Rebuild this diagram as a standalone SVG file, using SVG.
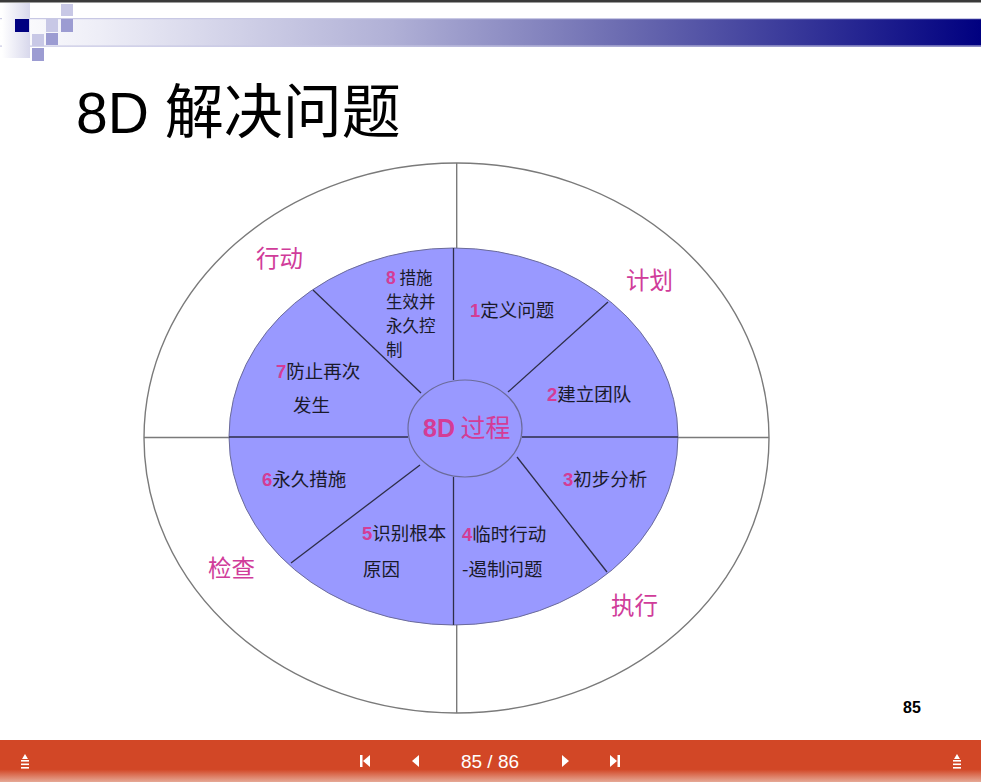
<svg xmlns="http://www.w3.org/2000/svg" width="981" height="782" viewBox="0 0 981 782">
  <defs>
    <linearGradient id="hdr" x1="0" y1="0" x2="1" y2="0">
      <stop offset="0" stop-color="#ffffff"/>
      <stop offset="0.1" stop-color="#eeeef7"/>
      <stop offset="0.4" stop-color="#b0b0d6"/>
      <stop offset="0.64" stop-color="#6a6ab0"/>
      <stop offset="1" stop-color="#000080"/>
    </linearGradient>
    <linearGradient id="side" x1="0" y1="0" x2="1" y2="0">
      <stop offset="0" stop-color="#ffffff"/>
      <stop offset="1" stop-color="#d8d8ec"/>
    </linearGradient>
    <linearGradient id="bar" x1="0" y1="0" x2="0" y2="1">
      <stop offset="0" stop-color="#d24726"/>
      <stop offset="0.7" stop-color="#d24726"/>
      <stop offset="1" stop-color="#e6a996"/>
    </linearGradient>
    <g id="menu">
      <path d="M0 -8 L3 -3 L-3 -3 Z" fill="#fff"/>
      <rect x="-4" y="-2" width="8" height="1.6" fill="#fff"/>
      <rect x="-4" y="1.5" width="8" height="1.6" fill="#fff"/>
      <rect x="-4" y="5" width="8" height="1.6" fill="#fff"/>
    </g>
  </defs>
  <style>
    .cn { font-family: "Noto Sans CJK SC", "Liberation Sans", sans-serif; }
    .item { font-family: "Noto Sans CJK SC", "Liberation Sans", sans-serif; font-size: 18.5px; fill: #1a1a2a; }
    .tight { font-size: 16.5px; }
    .num { font-family: "Liberation Sans", Arial, sans-serif; font-weight: bold; fill: #d43c96; }
    .phase { font-family: "Noto Sans CJK SC", sans-serif; font-size: 23.5px; fill: #d03c9a; }
    .div { stroke: #2e2e48; stroke-width: 1.3; fill: none; }
    .outer { stroke: #7a7a7a; stroke-width: 1.4; fill: none; }
  </style>

  <rect width="981" height="782" fill="#ffffff"/>

  <!-- slide header -->
  <g id="header">
    <rect x="0" y="0" width="981" height="2.5" fill="#3a3a3a"/>
    <rect x="0" y="18" width="981" height="29" fill="url(#hdr)"/>
    <rect x="0" y="18" width="981" height="1.2" fill="#c8c8e4"/>
    <rect x="0" y="45.5" width="981" height="1.2" fill="#c8c8e4"/>
    <rect x="2" y="3" width="28" height="55" fill="url(#side)"/>
    <rect x="15" y="19" width="14" height="13" fill="#000080"/>
    <rect x="61" y="4" width="12" height="12" fill="#c8c8e6"/>
    <rect x="46" y="19" width="12" height="13" fill="#c8c8e6"/>
    <rect x="61" y="19" width="12" height="13" fill="#9c9cd2"/>
    <rect x="32" y="34" width="12" height="12" fill="#c8c8e6"/>
    <rect x="46" y="33" width="12" height="12" fill="#9c9cd2"/>
    <rect x="32" y="48" width="12" height="13" fill="#9c9cd2"/>
  </g>

  <text x="76" y="133" font-size="57" fill="#000"><tspan font-family="Liberation Sans, Arial, sans-serif">8D </tspan><tspan class="cn" font-size="59">解决问题</tspan></text>

  <!-- outer ring -->
  <g id="outer-ring">
    <ellipse cx="456.5" cy="438" rx="312.5" ry="275" fill="#ffffff" class="outer"/>
    <line x1="456.7" y1="163" x2="456.7" y2="248" class="outer"/>
    <line x1="456.7" y1="625" x2="456.7" y2="713" class="outer"/>
    <line x1="144" y1="437.5" x2="229" y2="437.5" class="outer"/>
    <line x1="678" y1="437.5" x2="769" y2="437.5" class="outer"/>
  </g>

  <!-- inner disc -->
  <g id="inner-disc">
    <ellipse cx="453.5" cy="436.5" rx="224.5" ry="188.5" fill="#9999ff" stroke="#6b6b9a" stroke-width="1"/>
  </g>

  <g id="connectors">
    <line x1="453.5" y1="248" x2="453.5" y2="380" class="div"/>
    <line x1="453.5" y1="477" x2="453.5" y2="625" class="div"/>
    <line x1="229" y1="437" x2="408" y2="437" class="div"/>
    <line x1="522" y1="437" x2="678" y2="437" class="div"/>
    <line x1="313" y1="290" x2="421" y2="393" class="div"/>
    <line x1="608" y1="302" x2="508" y2="392" class="div"/>
    <line x1="291" y1="563" x2="420" y2="465" class="div"/>
    <line x1="517" y1="457" x2="607" y2="572" class="div"/>
  </g>

  <g id="hub">
    <ellipse cx="465" cy="428.5" rx="57" ry="48.5" fill="#9999ff" stroke="#6b6b9a" stroke-width="1.2"/>
    <text x="423" y="437" font-size="25"><tspan class="num">8D</tspan><tspan class="cn" fill="#d43c96"> 过程</tspan></text>
  </g>

  <g id="phase-labels">
    <text x="256" y="267" class="phase">行动</text>
    <text x="626" y="289" class="phase">计划</text>
    <text x="208" y="577" class="phase">检查</text>
    <text x="611" y="614" class="phase">执行</text>
  </g>

  <g id="step-1"><text x="470" y="317" class="item"><tspan class="num">1</tspan>定义问题</text></g>
  <g id="step-2"><text x="547" y="401" class="item"><tspan class="num">2</tspan>建立团队</text></g>
  <g id="step-3"><text x="563" y="486" class="item"><tspan class="num">3</tspan>初步分析</text></g>
  <g id="step-4">
    <text x="462" y="541" class="item"><tspan class="num">4</tspan>临时行动</text>
    <text x="462" y="576" class="item">-遏制问题</text>
  </g>
  <g id="step-5">
    <text x="362" y="540" class="item"><tspan class="num">5</tspan>识别根本</text>
    <text x="363" y="576" class="item">原因</text>
  </g>
  <g id="step-6"><text x="262" y="486" class="item"><tspan class="num">6</tspan>永久措施</text></g>
  <g id="step-7">
    <text x="276" y="378" class="item"><tspan class="num">7</tspan>防止再次</text>
    <text x="293" y="412" class="item">发生</text>
  </g>
  <!-- four tightly stacked lines, slightly smaller so they do not collide -->
  <g id="step-8">
    <text x="386" y="284" class="item tight"><tspan class="num" font-size="17.5">8</tspan> 措施<tspan x="386" dy="24">生效并</tspan><tspan x="386" dy="24">永久控</tspan><tspan x="386" dy="24">制</tspan></text>
  </g>

  <text x="903" y="713" font-family="Liberation Sans, Arial, sans-serif" font-weight="bold" font-size="16" fill="#000">85</text>

  <!-- navigation bar -->
  <g id="navbar">
    <rect x="0" y="740" width="981" height="42" fill="url(#bar)"/>
    <use href="#menu" x="25" y="762"/>
    <use href="#menu" x="957" y="762"/>
    <rect x="360" y="755" width="2.5" height="12" fill="#fff"/>
    <path d="M370 755 L363 761 L370 767 Z" fill="#fff"/>
    <path d="M419 755 L412 761 L419 767 Z" fill="#fff"/>
    <text x="490" y="768" text-anchor="middle" font-family="Liberation Sans, Arial, sans-serif" font-size="19" fill="#fff">85 / 86</text>
    <path d="M562 755 L569 761 L562 767 Z" fill="#fff"/>
    <path d="M610 755 L617 761 L610 767 Z" fill="#fff"/>
    <rect x="617.5" y="755" width="2.5" height="12" fill="#fff"/>
  </g>
</svg>
